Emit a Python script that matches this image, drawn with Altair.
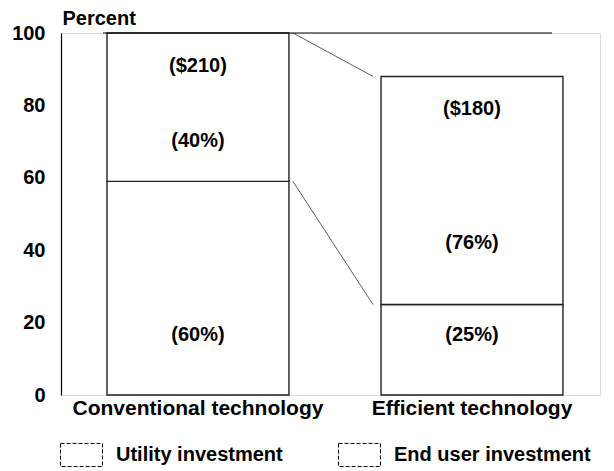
import altair as alt
import pandas as pd

# ---- values ----
technologies = ["Conventional technology", "Efficient technology"]
components = ["Utility investment", "End user investment"]
utility_top = [59, 25]          # top of the utility segment (percent of conventional total)
end_user_top = [100, 88]        # top of each bar (percent of conventional total)
utility_pct = ["(60%)", "(25%)"]
end_user_pct = ["(40%)", "(76%)"]
totals = ["($210)", "($180)"]
y_ticks = [0, 20, 40, 60, 80, 100]

FONT = "Liberation Sans"

rows = []
for i, t in enumerate(technologies):
    rows.append({"tech": t, "component": components[0], "lo": 0, "hi": utility_top[i], "label": utility_pct[i]})
    rows.append({"tech": t, "component": components[1], "lo": utility_top[i], "hi": end_user_top[i], "label": end_user_pct[i]})
seg = pd.DataFrame(rows)
tot = pd.DataFrame({"tech": technologies, "top": end_user_top, "label": totals})
conn = pd.DataFrame({
    "tech": [technologies[0], technologies[0]],
    "to": [technologies[1], technologies[1]],
    "y1": [end_user_top[0], utility_top[0]],
    "y2": [end_user_top[1], utility_top[1]],
})
topline = pd.DataFrame({"tech": [technologies[0]], "to": [technologies[1]], "y": [end_user_top[0]]})

xscale = alt.Scale(domain=technologies, paddingInner=0.336, paddingOuter=0.1515, align=0.554)
xaxis = alt.Axis(domain=False, ticks=False, labelFontSize=21, labelFontWeight="bold",
                 labelPadding=2, labelColor="black", labelFont=FONT, labelAngle=0,
                 labelLimit=600)
yscale = alt.Scale(domain=[0, 100], nice=False)
yaxis = alt.Axis(values=y_ticks, grid=False, ticks=False, domainColor="black", domainWidth=1.2,
                 labelFontSize=20, labelFontWeight="bold", labelPadding=16, labelColor="black",
                 labelFont=FONT, title="Percent", titleAngle=0, titleAlign="left",
                 titleBaseline="alphabetic", titleX=1, titleY=-9, titleFontSize=20,
                 titleFontWeight="bold", titleColor="black", titleFont=FONT)

X = lambda **kw: alt.X("tech:N", scale=xscale, axis=xaxis, title=None, **kw)

bars = alt.Chart(seg).mark_bar(stroke="#222222", strokeWidth=1.4).encode(
    x=X(),
    y=alt.Y("lo:Q", scale=yscale, axis=yaxis),
    y2="hi:Q",
    fill=alt.Fill("component:N",
                  scale=alt.Scale(domain=components, range=["white", "white"]),
                  sort=components,
                  legend=alt.Legend(title=None, orient="none", direction="horizontal",
                                    legendX=-1, legendY=400,
                                    symbolType="M-1,-0.55H1V0.55H-1Z", symbolSize=1764,
                                    symbolStrokeColor="black", symbolStrokeWidth=1,
                                    symbolDash=[4, 2], symbolFillColor="white",
                                    labelFontSize=20, labelFontWeight="bold", labelFont=FONT,
                                    labelColor="black", labelOffset=13, columnPadding=53,
                                    padding=0, labelLimit=400)),
)

top_rule = alt.Chart(topline).mark_rule(color="black", strokeWidth=1.2, xOffset=-4, x2Offset=-11).encode(
    x=X(bandPosition=0),
    x2=alt.X2("to:N", bandPosition=1),
    y=alt.Y("y:Q", scale=yscale, axis=yaxis),
)

connectors = alt.Chart(conn).mark_rule(color="#333333", strokeWidth=0.8, xOffset=4, x2Offset=-8).encode(
    x=X(bandPosition=1),
    x2=alt.X2("to:N", bandPosition=0),
    y=alt.Y("y1:Q", scale=yscale, axis=yaxis),
    y2="y2:Q",
)

text_style = dict(font=FONT, fontSize=20, fontWeight="bold", color="black")

total_text = alt.Chart(tot).mark_text(yOffset=33, **text_style).encode(
    x=X(),
    y=alt.Y("top:Q", scale=yscale, axis=yaxis),
    text="label:N",
)

enduser_text = alt.Chart(seg).transform_filter(
    alt.datum.component == components[1]
).transform_calculate(
    ypos="datum.lo + 0.27 * (datum.hi - datum.lo)"
).mark_text(**text_style).encode(
    x=X(),
    y=alt.Y("ypos:Q", scale=yscale, axis=yaxis),
    text="label:N",
)

utility_text = alt.Chart(seg).transform_filter(
    alt.datum.component == components[0]
).mark_text(yOffset=-60, **text_style).encode(
    x=X(),
    y=alt.Y("lo:Q", scale=yscale, axis=yaxis),
    text="label:N",
)

chart = alt.layer(bars, top_rule, connectors, total_text, enduser_text, utility_text).properties(
    width=539, height=362,
    autosize=alt.AutoSizeParams(type="none"),
    padding={"left": 53, "top": 25, "right": 6, "bottom": 76},
).configure_view(stroke=None).configure(background="white")

chart.save("out.html", embed_options={"renderer": "svg", "actions": False})
